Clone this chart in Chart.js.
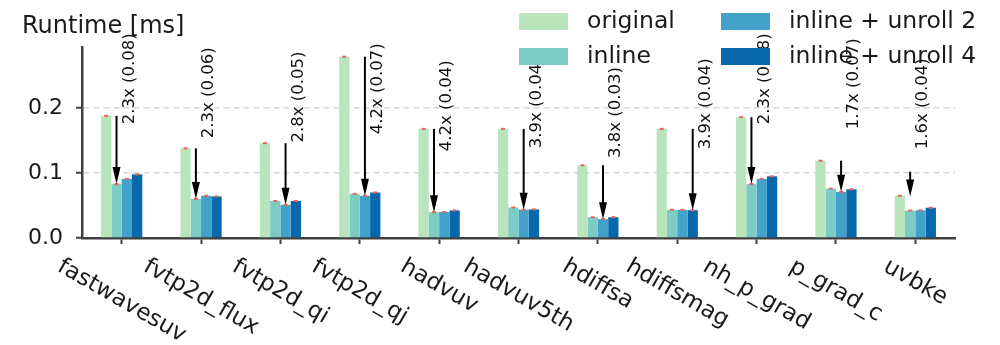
<!DOCTYPE html>
<html>
<head>
<meta charset="utf-8">
<script src="https://cdn.jsdelivr.net/npm/chart.js@4"></script>
<style>
  html, body { margin: 0; padding: 0; background: #fff; }
  #wrap { width: 1000px; height: 345px; position: relative; }
</style>
</head>
<body>
<div id="wrap"><canvas id="runtimeChart"></canvas></div>
<script>
// kernels and runtimes [ms]
const kernels = ["fastwavesuv", "fvtp2d_flux", "fvtp2d_qi", "fvtp2d_qj", "hadvuv", "hadvuv5th",
  "hdiffsa", "hdiffsmag", "nh_p_grad", "p_grad_c", "uvbke"];
const original = [0.188, 0.138, 0.146, 0.279, 0.168, 0.168, 0.112, 0.168, 0.186, 0.119, 0.065];
const inlined  = [0.083, 0.060, 0.057, 0.068, 0.0398, 0.047, 0.032, 0.0435, 0.083, 0.076, 0.0423];
const unroll2  = [0.091, 0.065, 0.051, 0.065, 0.0400, 0.0435, 0.029, 0.0432, 0.091, 0.071, 0.0425];
const unroll4  = [0.098, 0.064, 0.057, 0.070, 0.0425, 0.044, 0.032, 0.0428, 0.095, 0.075, 0.0466];

// annotations: speedup and best runtime, arrow span and label centre (ms)
const speedup = [2.3, 2.3, 2.8, 4.2, 4.2, 3.9, 3.8, 3.9, 2.3, 1.7, 1.6];
const bestRuntime = [0.08, 0.06, 0.05, 0.07, 0.04, 0.04, 0.03, 0.04, 0.08, 0.07, 0.04];
const arrowTop = [0.188, 0.138, 0.146, 0.279, 0.168, 0.168, 0.112, 0.168, 0.186, 0.119, 0.102];
const arrowTip = [0.083, 0.060, 0.051, 0.065, 0.0398, 0.0435, 0.029, 0.0428, 0.083, 0.071, 0.064];
const noteCenter = [0.245, 0.2235, 0.217, 0.2297, 0.2035, 0.208, 0.193, 0.2066, 0.245, 0.2374, 0.2066];

const yTicks = [0, 0.1, 0.2];
const seriesNames = ["original", "inline", "inline + unroll 2", "inline + unroll 4"];
const seriesColors = ["#bae4bc", "#7bccc4", "#43a2ca", "#0868ac"];

const FONT = "'DejaVu Sans', sans-serif";
const AXIS = "#404040";

const extras = {
  id: "extras",
  afterDatasetsDraw(chart) {
    const ctx = chart.ctx;
    const y = chart.scales.y;

    // small red marks at bar tops
    ctx.save();
    ctx.strokeStyle = "#e8655f";
    ctx.lineWidth = 2;
    chart.data.datasets.forEach((ds, d) => {
      chart.getDatasetMeta(d).data.forEach((bar) => {
        ctx.beginPath();
        ctx.moveTo(bar.x - 2, bar.y);
        ctx.lineTo(bar.x + 2, bar.y);
        ctx.stroke();
      });
    });
    ctx.restore();

    // arrows from original down to the best variant + rotated notes
    const tuned = [inlined, unroll2, unroll4];
    kernels.forEach((k, i) => {
      let best = 0;
      tuned.forEach((s, j) => { if (s[i] < tuned[best][i]) best = j; });
      const x = chart.getDatasetMeta(best + 1).data[i].x;
      const y0 = y.getPixelForValue(arrowTop[i]);
      const y1 = y.getPixelForValue(arrowTip[i]);
      const head = 17;

      ctx.save();
      ctx.strokeStyle = "#000";
      ctx.fillStyle = "#000";
      ctx.lineWidth = 2;
      ctx.beginPath();
      ctx.moveTo(x, y0);
      ctx.lineTo(x, y1 - head + 2);
      ctx.stroke();
      ctx.beginPath();
      ctx.moveTo(x, y1);
      ctx.lineTo(x - 4, y1 - head);
      ctx.lineTo(x + 4, y1 - head);
      ctx.closePath();
      ctx.fill();

      ctx.translate(x + 13, y.getPixelForValue(noteCenter[i]));
      ctx.rotate(-Math.PI / 2);
      ctx.font = "16.5px " + FONT;
      ctx.fillStyle = "#111";
      ctx.textAlign = "center";
      ctx.textBaseline = "middle";
      ctx.fillText(speedup[i].toFixed(1) + "x (" + bestRuntime[i].toFixed(2) + ")", 0, 0);
      ctx.restore();
    });
  },
  afterDraw(chart) {
    const ctx = chart.ctx;
    const xs = chart.scales.x;

    // x labels, rotated 30 deg clockwise, centred under the tick
    ctx.save();
    ctx.font = "23px " + FONT;
    ctx.fillStyle = "#1a1a1a";
    ctx.textAlign = "center";
    ctx.textBaseline = "middle";
    kernels.forEach((k, i) => {
      const w = ctx.measureText(k).width;
      const cx = xs.getPixelForTick(i);
      const cy = 265 + w / 4;
      ctx.save();
      ctx.translate(cx, cy);
      ctx.rotate(Math.PI / 6);
      ctx.fillText(k, 0, 0);
      ctx.restore();
    });

    // axis title
    ctx.font = "24px " + FONT;
    ctx.textAlign = "left";
    ctx.textBaseline = "alphabetic";
    ctx.fillText("Runtime [ms]", 22, 33);

    // legend, two columns
    ctx.font = "23.5px " + FONT;
    const cols = [519, 721];
    const rows = [13, 48];
    chart.data.datasets.forEach((ds, d) => {
      const cx = cols[Math.floor(d / 2)];
      const ry = rows[d % 2];
      ctx.fillStyle = ds.backgroundColor;
      ctx.fillRect(cx, ry, 49, 17);
      ctx.fillStyle = "#1a1a1a";
      ctx.fillText(ds.label, cx + 68, ry + 15);
    });
    ctx.restore();
  }
};

new Chart(document.getElementById("runtimeChart"), {
  type: "bar",
  data: {
    labels: kernels,
    datasets: [original, inlined, unroll2, unroll4].map((vals, d) => ({
      label: seriesNames[d],
      data: vals,
      backgroundColor: seriesColors[d],
      borderWidth: 0,
      categoryPercentage: 0.52,
      barPercentage: 1.0
    }))
  },
  options: {
    responsive: true,
    maintainAspectRatio: false,
    animation: false,
    layout: { padding: { top: 47, right: 45, left: 0, bottom: 0 } },
    plugins: { legend: { display: false }, tooltip: { enabled: false } },
    scales: {
      x: {
        grid: {
          offset: false,
          drawOnChartArea: false,
          tickLength: 6,
          tickWidth: 2,
          tickColor: AXIS
        },
        border: { color: AXIS, width: 2.5 },
        ticks: { display: false },
        afterFit: (s) => { s.height = 107; }
      },
      y: {
        min: 0,
        max: 0.294,
        afterBuildTicks: (s) => { s.ticks = yTicks.map((v) => ({ value: v })); },
        grid: {
          color: (c) => (c.tick && c.tick.value === 0 ? "rgba(0,0,0,0)" : "#d6d6d6"),
          lineWidth: 1.5,
          tickLength: 6,
          tickWidth: 2,
          tickColor: AXIS
        },
        border: { color: AXIS, width: 2.5, dash: [6, 4] },
        ticks: {
          padding: 13,
          color: "#1a1a1a",
          font: { family: FONT, size: 22 },
          callback: (v) => Number(v).toFixed(1)
        },
        afterFit: (s) => { s.width = 82; }
      }
    }
  },
  plugins: [extras]
});
</script>
</body>
</html>
